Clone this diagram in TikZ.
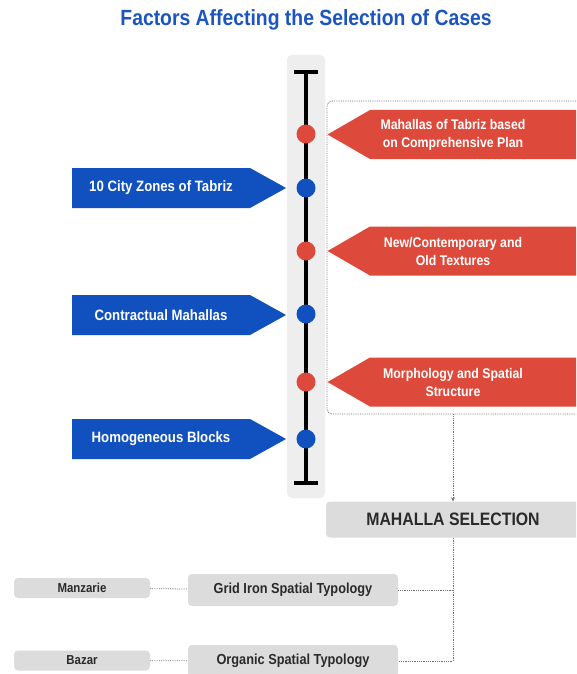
\documentclass[tikz,border=0pt]{standalone}
\usepackage{fontspec}
\setmainfont{Liberation Sans}[FakeStretch=0.88]
\usetikzlibrary{arrows.meta,positioning,shapes.symbols}
\definecolor{zoneblue}{HTML}{1150BF}
\definecolor{factred}{HTML}{DD4A3B}
\definecolor{titleblue}{HTML}{1C55C0}
\definecolor{stripbg}{HTML}{EEEEEE}
\definecolor{boxgray}{HTML}{DCDCDC}
\definecolor{dotline}{HTML}{707070}
\definecolor{labelgray}{HTML}{2A2A2A}

\begin{document}
\begin{tikzpicture}[x=1pt,y=-1pt,
  zonearr/.style={signal,signal to=east,fill=zoneblue,text=white,
              font=\bfseries\fontsize{15}{17}\selectfont,minimum height=40pt,
              inner xsep=0pt,text width=178pt,align=flush center,signal pointer angle=58},
  factarr/.style={signal,signal to=west,fill=factred,minimum height=49pt,
              inner xsep=0pt,text width=208pt,signal pointer angle=60},
  facttext/.style={text=white,font=\bfseries\fontsize{14}{18}\selectfont,align=center},
  reddot/.style={circle,fill=factred,minimum size=19pt,inner sep=0pt},
  bluedot/.style={circle,fill=zoneblue,minimum size=19pt,inner sep=0pt},
  graybox/.style={fill=boxgray,rounded corners=4pt,text=labelgray,inner sep=0pt},
  dotconn/.style={draw=dotline,densely dotted,line width=0.8pt},
  dotarr/.style={dotconn,-{Stealth[length=4pt,width=4pt]}}
]
\clip (0,0) rectangle (576,674);
\fill[white] (0,0) rectangle (576,674);

% title
\node[text=titleblue,font=\bfseries\fontsize{22}{26}\selectfont] (title) at (306,20)
  {Factors Affecting the Selection of Cases};

% spine
\fill[stripbg,rounded corners=5pt] (287,55) rectangle (325,498);
\coordinate (top) at (306,72);
\coordinate (bot) at (306,483);
\draw[line width=4pt] (top) -- (bot);
\draw[line width=3.5pt] ([xshift=-12pt]top) -- ([xshift=12pt]top);
\draw[line width=3.5pt] ([xshift=-12pt]bot) -- ([xshift=12pt]bot);

% dotted frame round the red factors
\node[draw=dotline,densely dotted,line width=0.8pt,rounded corners=5pt,
      minimum width=272pt,minimum height=313pt] (frame) at (463,257.5) {};

% dots on the spine
\node[reddot] (d1) at (306,134) {};
\node[bluedot] (d2) at (306,188) {};
\node[reddot] (d3) at (306,251) {};
\node[bluedot] (d4) at (306,314) {};
\node[reddot] (d5) at (306,382) {};
\node[bluedot] (d6) at (306,439) {};

% blue factors
\node[zonearr] (z1) at (161,188) {10 City Zones of Tabriz};
\node[zonearr] (z2) at (161,315) {Contractual Mahallas};
\node[zonearr] (z3) at (161,439) {Homogeneous Blocks};

% red factors
\node[factarr,label={[facttext,xshift=-21pt]center:Mahallas of Tabriz based\\on Comprehensive Plan}] (r1) at (474,134.5) {};
\node[factarr,label={[facttext,xshift=-21pt]center:New/Contemporary and\\Old Textures}] (r2) at (474,251) {};
\node[factarr,label={[facttext,xshift=-21pt]center:Morphology and Spatial\\Structure}] (r3) at (474,382) {};

% selection and typologies
\node[graybox,minimum width=254pt,minimum height=36pt,
      font=\bfseries\fontsize{18}{21}\selectfont] (sel) at (453,519.5) {MAHALLA SELECTION};
\node[graybox,minimum width=210pt,minimum height=32pt,
      font=\bfseries\fontsize{14.5}{17}\selectfont] (grid) at (293,590) {Grid Iron Spatial Typology};
\node[graybox,minimum width=210pt,minimum height=32pt,
      font=\bfseries\fontsize{14.5}{17}\selectfont] (org) at (293,661) {Organic Spatial Typology};
\node[graybox,minimum width=136pt,minimum height=20pt,
      font=\bfseries\fontsize{13}{15}\selectfont] (man) at (82,588) {Manzarie};
\node[graybox,minimum width=136pt,minimum height=20pt,
      font=\bfseries\fontsize{13}{15}\selectfont] (baz) at (82,660.5) {Bazar};

% connectors
\draw[dotarr] (sel.north |- frame.south) -- (sel.north);
\coordinate (j) at (sel.south |- org.east);
\draw[dotconn] (sel.south) -- (j) -- (org.east);
\draw[dotconn] (grid.east) -- (grid.east -| sel.south);
\draw[dotconn] (man) -- (grid);
\draw[dotconn] (baz) -- (org);
\end{tikzpicture}
\end{document}
